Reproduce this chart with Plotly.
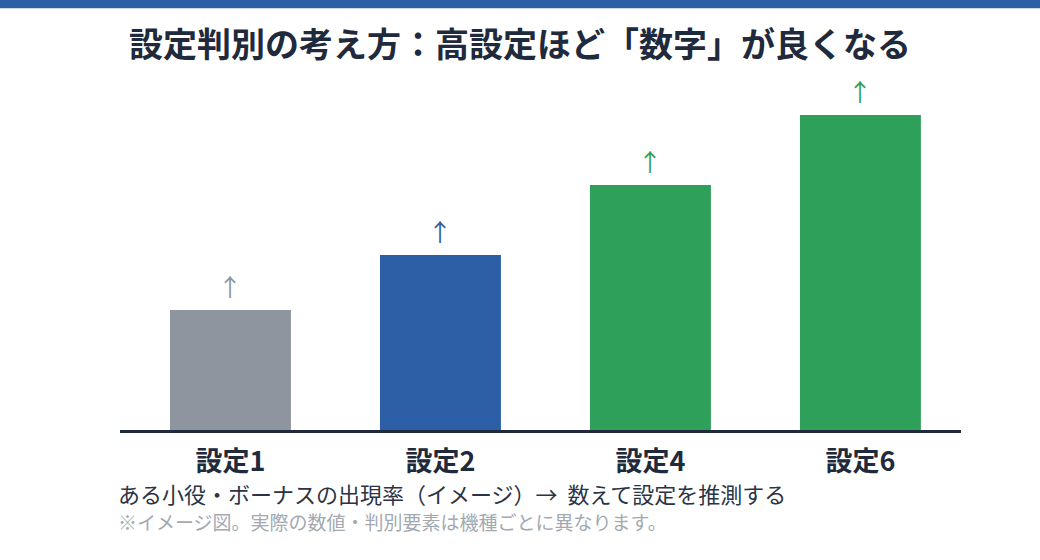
import plotly.graph_objects as go

# 設定ごとの「数字」イメージ値
settings = ["設定1", "設定2", "設定4", "設定6"]
values = [24, 35, 49, 63]
bar_colors = ["#8e959e", "#2c5fa6", "#2ea05a", "#2ea05a"]

title_text = "設定判別の考え方：高設定ほど「数字」が良くなる"
sub_text = "ある小役・ボーナスの出現率（イメージ）→  数えて設定を推測する"
note_text = "※イメージ図。実際の数値・判別要素は機種ごとに異なります。"

FONT = "Noto Sans CJK JP"
NAVY = "#1f2a3c"

fig = go.Figure(go.Bar(
    x=settings,
    y=values,
    marker=dict(color=bar_colors, line=dict(width=0)),
    width=0.576,
    hoverinfo="skip",
))

# 各バーの上に矢印
for s, v, c in zip(settings, values, bar_colors):
    fig.add_annotation(x=s, y=v, text="↑", showarrow=False,
                       yanchor="bottom", yshift=5,
                       font=dict(family=FONT, size=24, color=c))

fig.add_annotation(xref="paper", yref="paper", x=0, y=-0.1786, xshift=-4,
                   xanchor="left", yanchor="middle", showarrow=False,
                   text=sub_text, font=dict(family=FONT, size=22, color="#2a3446"))
fig.add_annotation(xref="paper", yref="paper", x=0, y=-0.2614, xshift=-4,
                   xanchor="left", yanchor="middle", showarrow=False,
                   text=note_text, font=dict(family=FONT, size=19, color="#a3a9b1"))

# 上部の青帯
fig.add_shape(type="rect", xref="paper", yref="paper",
              x0=-0.5, x1=1.5, y0=1.205, y1=1.5,
              fillcolor="#2c5fa6", line=dict(width=0), layer="above")

fig.update_layout(
    width=1040, height=560,
    margin=dict(l=120, r=79, t=80, b=130),
    paper_bgcolor="white", plot_bgcolor="white",
    showlegend=False,
    title=dict(text=title_text, x=0.5, xref="container", xanchor="center",
               y=1 - 45 / 560, yref="container", yanchor="middle",
               font=dict(family=FONT, size=34, color=NAVY, weight="bold")),
    xaxis=dict(range=[-0.526, 3.479], showline=True, linecolor=NAVY, linewidth=3,
               ticks="", showgrid=False, zeroline=False, ticklabelstandoff=6,
               tickfont=dict(family=FONT, size=27, color=NAVY, weight="bold")),
    yaxis=dict(range=[0, 70], visible=False, showgrid=False, zeroline=False),
)

fig.write_html("out.html", config={"displayModeBar": False},
               post_script="document.body.style.margin='0';")
